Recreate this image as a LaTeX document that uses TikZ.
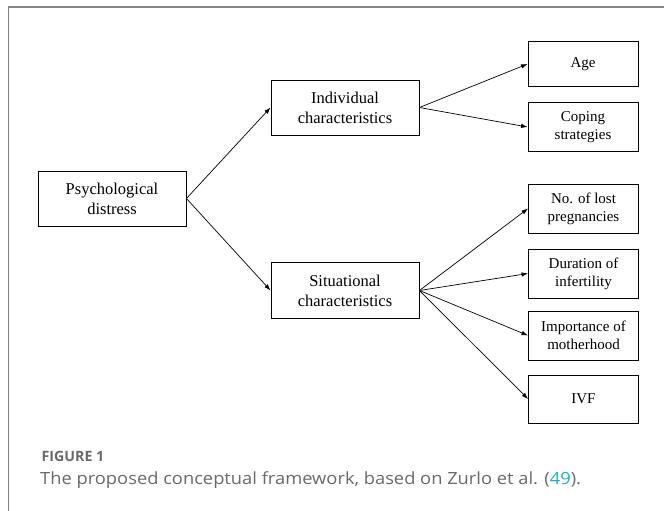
\documentclass[tikz,border=0pt]{standalone}
\usepackage{fontspec}
\setmainfont{Liberation Serif}
\newfontfamily\capfont{Open Sans}
\usetikzlibrary{arrows.meta}
\definecolor{FrameClr}{HTML}{858585}
\definecolor{CapClr}{HTML}{6A6A6A}
\definecolor{RefClr}{HTML}{1FB0C6}

\tikzset{
  bigbox/.style={draw,line width=0.9pt,inner sep=0pt,align=center,
    minimum width=148pt,minimum height=55pt,
    font=\fontsize{16.5}{20}\selectfont},
  smallbox/.style={draw,line width=0.9pt,inner sep=0pt,align=center,
    minimum width=110pt,minimum height=48pt,
    font=\fontsize{15}{18}\selectfont},
  link/.style={line width=0.7pt,-{Latex[length=6.5pt,width=4.5pt]}}
}

\begin{document}
\begin{tikzpicture}[x=1pt,y=-1pt]
\useasboundingbox (0,0) rectangle (664,511);
\fill[white] (0,0) rectangle (664,511);

% frame of the figure
\draw[FrameClr,line width=1.6pt] (8.3,530) -- (8.3,7) -- (690,7);

% boxes
\node[bigbox] (psy) at (112,198.5) {Psychological\\distress};
\node[bigbox] (ind) at (345,107.5) {Individual\\characteristics};
\node[bigbox,minimum height=56pt] (sit) at (345,290.5) {Situational\\characteristics};

\node[smallbox,minimum height=45pt] (age) at (583,64) {Age};
\node[smallbox,minimum height=49pt] (cop) at (583,127) {Coping\\strategies};
\node[smallbox,minimum height=49pt] (nlp) at (583.5,208.5) {No. of lost\\pregnancies};
\node[smallbox,minimum height=49pt] (dur) at (583.5,273.5) {Duration of\\infertility};
\node[smallbox,minimum height=49pt] (imp) at (583.5,335.5) {Importance of\\motherhood};
\node[smallbox] (ivf) at (583.5,399) {IVF};

% links
\draw[link] (psy.east) -- (ind.west);
\draw[link] (psy.east) -- (sit.west);
\foreach \t in {age,cop}
  \draw[link] (ind.east) -- (\t.west);
\foreach \t in {nlp,dur,imp,ivf}
  \draw[link] (sit.east) -- (\t.west);

% caption
\node[anchor=base west,inner sep=0pt,text=CapClr,
  font=\capfont\fontsize{14.2}{17}\selectfont\bfseries] (fig) at (41.5,461) {FIGURE 1};
\node[anchor=base west,inner sep=0pt,text=CapClr,
  font=\capfont\fontsize{16.8}{20}\selectfont] (cap) at (40,484.5)
  {\scalebox{1.09}[1]{The proposed conceptual framework, based on Zurlo et al. (\textcolor{RefClr}{49}).}};
\end{tikzpicture}
\end{document}
